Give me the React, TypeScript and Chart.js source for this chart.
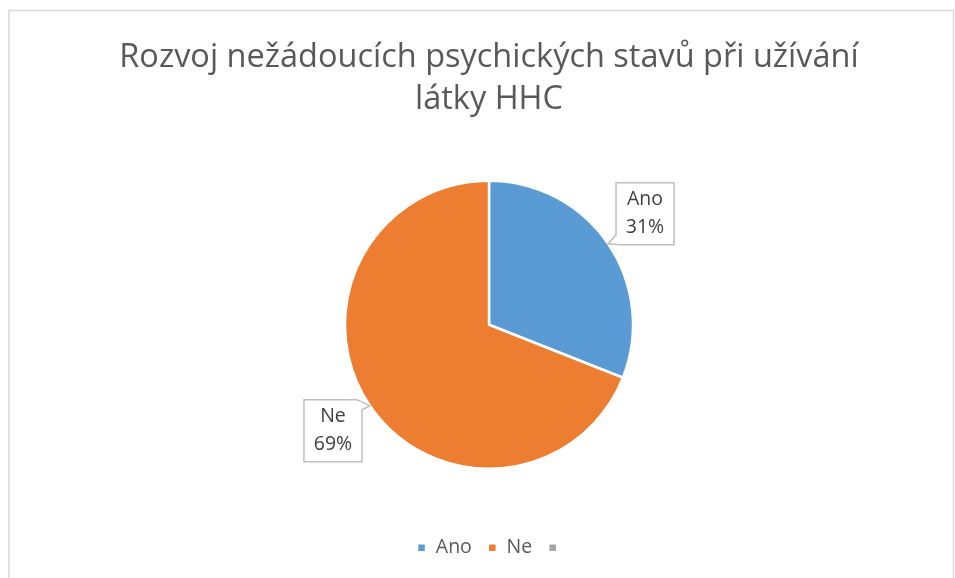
import React, { useEffect, useRef } from 'react';
import { Chart, registerables } from 'chart.js';

Chart.register(...registerables);

const titleLines = ['Rozvoj nežádoucích psychických stavů při užívání', 'látky HHC'];
const categories = ['Ano', 'Ne', ''];
const values = [31, 69, 0];
const colors = ['#5B9BD5', '#ED7D31', '#A5A5A5'];
const FONT = "'Open Sans', sans-serif";
const LEGEND_SHIFT = 3;

const framePlugin = {
  id: 'frame',
  beforeDraw(chart: any) {
    const ctx = chart.ctx;
    ctx.save();
    ctx.fillStyle = '#ffffff';
    ctx.fillRect(0, 0, chart.width, chart.height);
    ctx.strokeStyle = '#D9D9D9';
    ctx.lineWidth = 1.5;
    ctx.strokeRect(9, 10.5, 944.5, chart.height + 20);
    ctx.restore();
  },
};

const legendShiftPlugin = {
  id: 'legendShift',
  afterLayout(chart: any) {
    if (chart.legend) {
      chart.legend.left += LEGEND_SHIFT;
      chart.legend.right += LEGEND_SHIFT;
    }
  },
};

const calloutPlugin = {
  id: 'callouts',
  afterDatasetsDraw(chart: any) {
    const ctx = chart.ctx;
    const meta = chart.getDatasetMeta(0);
    const data = chart.data.datasets[0].data as number[];
    const labels = chart.data.labels as string[];
    const total = data.reduce((a, b) => a + b, 0);
    meta.data.forEach((arc: any, i: number) => {
      const v = data[i];
      if (!v) return;
      const p = arc.getProps(['x', 'y', 'startAngle', 'endAngle', 'outerRadius'], true);
      const mid = (p.startAngle + p.endAngle) / 2;
      const cos = Math.cos(mid);
      const sin = Math.sin(mid);
      const tip = { x: p.x + p.outerRadius * 1.0 * cos, y: p.y + p.outerRadius * 1.0 * sin };
      const cx = p.x + p.outerRadius * 1.31 * cos;
      const cy = p.y + p.outerRadius * 1.31 * sin - (sin < 0 ? 5 : 0);
      const w = 58;
      const h = 62;
      const L = cx - w / 2, R = cx + w / 2, T = cy - h / 2, B = cy + h / 2;
      const corners = [
        { x: L, y: T },
        { x: R, y: T },
        { x: R, y: B },
        { x: L, y: B },
      ];
      const k = tip.x < cx ? (tip.y < cy ? 0 : 3) : (tip.y < cy ? 1 : 2);
      ctx.save();
      ctx.beginPath();
      for (let j = 0; j < 4; j++) {
        const c = corners[j];
        if (j === k) {
          const prev = corners[(j + 3) % 4];
          const next = corners[(j + 1) % 4];
          const dpx = prev.x - c.x, dpy = prev.y - c.y;
          const dp = Math.hypot(dpx, dpy);
          const dnx = next.x - c.x, dny = next.y - c.y;
          const dn = Math.hypot(dnx, dny);
          const a = { x: c.x + (dpx / dp) * 5, y: c.y + (dpy / dp) * 5 };
          const b = { x: c.x + (dnx / dn) * 10, y: c.y + (dny / dn) * 10 };
          if (j === 0) ctx.moveTo(a.x, a.y); else ctx.lineTo(a.x, a.y);
          ctx.lineTo(tip.x, tip.y);
          ctx.lineTo(b.x, b.y);
        } else {
          if (j === 0) ctx.moveTo(c.x, c.y); else ctx.lineTo(c.x, c.y);
        }
      }
      ctx.closePath();
      ctx.fillStyle = '#ffffff';
      ctx.fill();
      ctx.strokeStyle = '#BFBFBF';
      ctx.lineWidth = 1.5;
      ctx.stroke();
      ctx.fillStyle = '#404040';
      ctx.font = `19.5px ${FONT}`;
      ctx.textAlign = 'center';
      ctx.textBaseline = 'middle';
      const pct = Math.round((v / total) * 100) + '%';
      ctx.fillText(labels[i], cx, cy - 14);
      ctx.fillText(pct, cx, cy + 14);
      ctx.restore();
    });
  },
};

export default function App() {
  const ref = useRef<HTMLCanvasElement>(null);
  useEffect(() => {
    document.body.style.margin = '0';
    const chart = new Chart(ref.current!, {
      type: 'pie',
      data: {
        labels: categories,
        datasets: [
          {
            data: values,
            backgroundColor: colors,
            borderColor: '#ffffff',
            borderWidth: 2.5,
          },
        ],
      },
      options: {
        animation: false,
        responsive: false,
        events: [],
        layout: { padding: { top: 0, left: 30, right: 7, bottom: 10.5 } },
        plugins: {
          tooltip: { enabled: false },
          title: {
            display: true,
            text: titleLines,
            color: '#595959',
            font: { family: FONT, size: 32.5, weight: 'normal', lineHeight: 1.292 },
            padding: { top: 37, bottom: 58.5 },
          },
          legend: {
            display: true,
            position: 'bottom',
            title: { display: true, text: ' ', font: { size: 12, lineHeight: 1.2 }, padding: { top: 37.6, bottom: 0 } },
            labels: {
              boxWidth: 9,
              boxHeight: 9,
              padding: 16,
              color: '#595959',
              font: { family: FONT, size: 19.5 },
            },
          },
        },
      },
      plugins: [framePlugin, legendShiftPlugin, calloutPlugin],
    });
    return () => chart.destroy();
  }, []);
  return <canvas ref={ref} width={955} height={578} style={{ display: 'block' }} />;
}
